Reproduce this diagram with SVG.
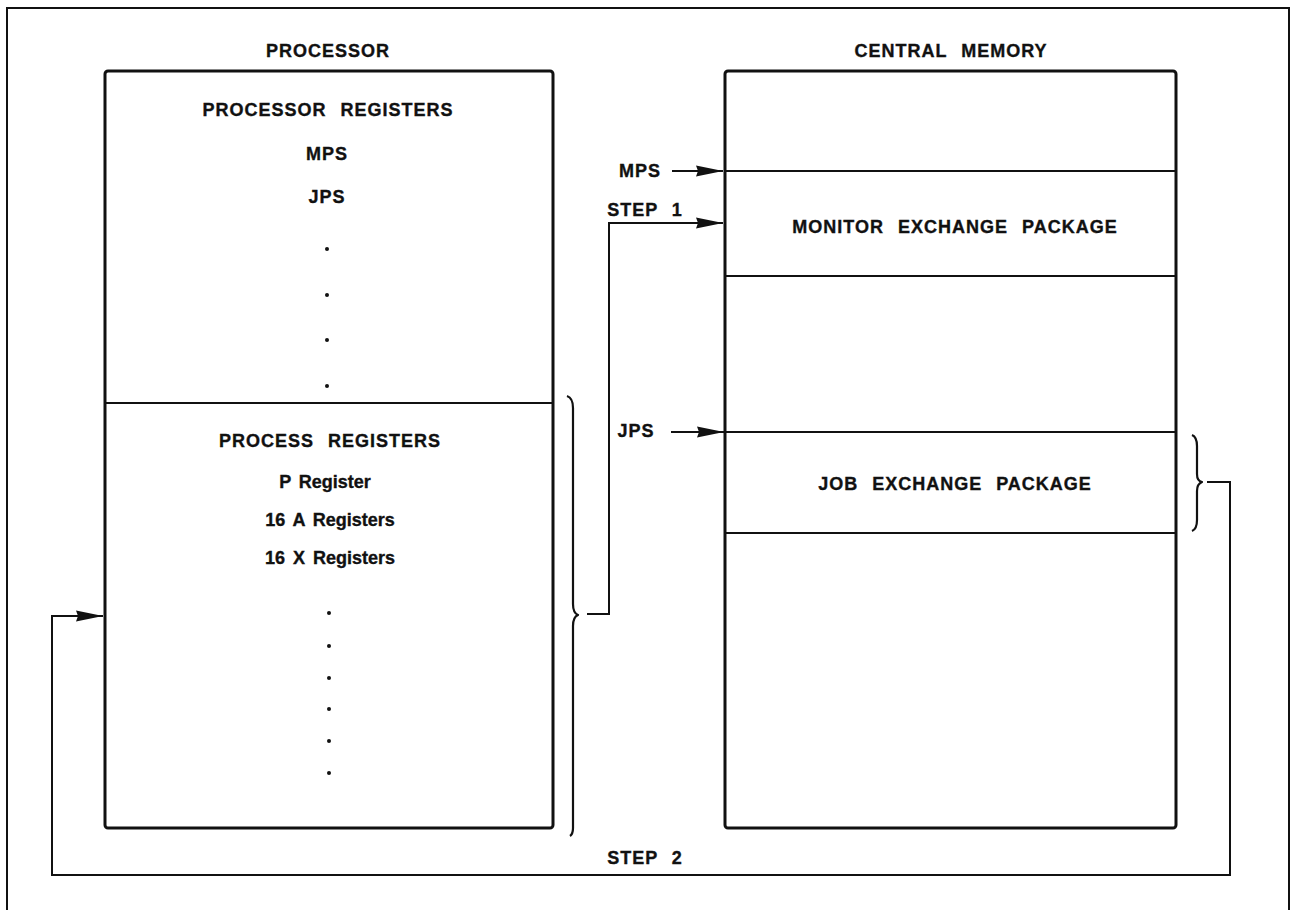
<svg xmlns="http://www.w3.org/2000/svg" width="1296" height="910" viewBox="0 0 1296 910">
  <style>
    .frame { fill: none; stroke: #111; stroke-width: 2; }
    .box { fill: none; stroke: #111; stroke-width: 3; }
    .rule { fill: none; stroke: #111; stroke-width: 2; }
    .wire { fill: none; stroke: #111; stroke-width: 2; }
    .brace { fill: none; stroke: #111; stroke-width: 2.2; stroke-linejoin: round; }
    text { font-family: "Liberation Sans", Arial, sans-serif; font-weight: bold; font-size: 18px; fill: #111; stroke: #111; stroke-width: 0.35; text-anchor: middle; letter-spacing: 1px; word-spacing: 8px; }
    text.lc { letter-spacing: 0; word-spacing: 3px; }
    .dot { fill: #111; }
  </style>
  <defs>
    <marker id="arrow" markerWidth="28" markerHeight="12" refX="27" refY="6" orient="auto" markerUnits="userSpaceOnUse">
      <path d="M0,0.5 L27,6 L0,11.5 L2,6 Z" fill="#111"/>
    </marker>
  </defs>
  <rect width="1296" height="910" fill="#fff"/>

  <!-- outer frame, open at the bottom -->
  <path class="frame" d="M7,910 V8 H1289 V910"/>

  <!-- processor -->
  <g id="processor">
    <text x="328" y="57">PROCESSOR</text>
    <rect class="box" x="105" y="71" width="448" height="757" rx="3"/>
    <line class="rule" x1="105" y1="403" x2="553" y2="403"/>
    <g id="processor-registers">
      <text x="328" y="116">PROCESSOR REGISTERS</text>
      <text x="327" y="160">MPS</text>
      <text x="327" y="203">JPS</text>
      <circle class="dot" cx="327" cy="249" r="2"/>
      <circle class="dot" cx="327" cy="295" r="2"/>
      <circle class="dot" cx="327" cy="340" r="2"/>
      <circle class="dot" cx="327" cy="386" r="2"/>
    </g>
    <g id="process-registers">
      <text x="330" y="447">PROCESS REGISTERS</text>
      <text class="lc" x="325" y="488">P Register</text>
      <text class="lc" x="330" y="526">16 A Registers</text>
      <text class="lc" x="330" y="564">16 X Registers</text>
      <circle class="dot" cx="329" cy="613" r="2"/>
      <circle class="dot" cx="329" cy="646" r="2"/>
      <circle class="dot" cx="329" cy="678" r="2"/>
      <circle class="dot" cx="329" cy="709" r="2"/>
      <circle class="dot" cx="329" cy="741" r="2"/>
      <circle class="dot" cx="329" cy="773" r="2"/>
    </g>
    <!-- brace grouping the process registers -->
    <path class="brace" d="M567,396 Q573,398 573,408 V604 Q573,613 578,615 Q573,617 573,626 V828 Q573,834 570,836"/>
  </g>

  <!-- central memory -->
  <g id="central-memory">
    <text x="951" y="57">CENTRAL MEMORY</text>
    <rect class="box" x="725" y="71" width="451" height="757" rx="3"/>
    <line class="rule" x1="725" y1="171" x2="1176" y2="171"/>
    <line class="rule" x1="725" y1="276" x2="1176" y2="276"/>
    <line class="rule" x1="725" y1="432" x2="1176" y2="432"/>
    <line class="rule" x1="725" y1="533" x2="1176" y2="533"/>
    <g id="monitor-exchange-package">
      <text x="955" y="233">MONITOR EXCHANGE PACKAGE</text>
    </g>
    <g id="job-exchange-package">
      <text x="955" y="490">JOB EXCHANGE PACKAGE</text>
      <!-- brace grouping the job package -->
      <path class="brace" d="M1192,435 Q1197,437 1197,446 V474 Q1197,481 1202,482 Q1197,484 1197,491 V520 Q1197,529 1192,531"/>
    </g>
  </g>

  <!-- pointer labels -->
  <g id="labels">
    <text x="640" y="177">MPS</text>
    <text x="645" y="216">STEP 1</text>
    <text x="636" y="437">JPS</text>
    <text x="645" y="864">STEP 2</text>
  </g>

  <!-- connectors -->
  <g id="connectors">
    <line class="wire" x1="672" y1="171" x2="723" y2="171" marker-end="url(#arrow)"/>
    <line class="wire" x1="671" y1="432" x2="724" y2="432" marker-end="url(#arrow)"/>
    <!-- step 1: process registers saved into the monitor exchange package -->
    <path class="wire" d="M587,614 H609 V223 H723" marker-end="url(#arrow)"/>
    <!-- step 2: job exchange package loaded into the process registers -->
    <path class="wire" d="M1207,482 H1230 V875 H52 V616 H103" marker-end="url(#arrow)"/>
  </g>
</svg>
